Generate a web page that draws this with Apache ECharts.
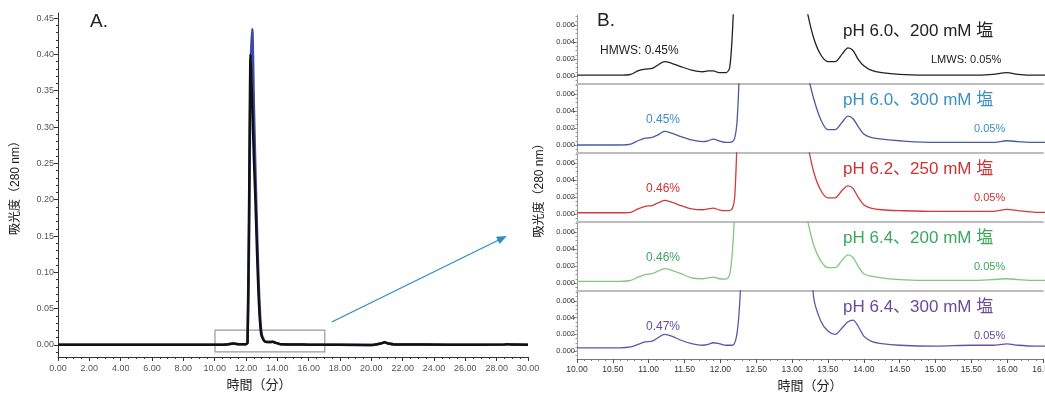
<!DOCTYPE html>
<html>
<head>
<meta charset="utf-8">
<script src="https://cdn.jsdelivr.net/npm/echarts@6/dist/echarts.min.js"></script>
<style>
  html, body { margin: 0; padding: 0; background: #fff; }
  #main { width: 1045px; height: 393px; }
</style>
</head>
<body>
<div id="main"></div>
<script>
// A. full chromatogram (time in min, absorbance at 280 nm)
var leftTime  = [0, 5, 10, 10.8, 11.2, 11.6, 12.0, 12.1, 12.2, 12.29, 12.4, 12.5, 12.6, 12.7, 12.8, 12.9, 13.0, 13.2, 13.5, 13.7, 13.9, 14.2, 16, 19.8, 20.2, 20.6, 20.85, 21.1, 21.5, 25, 28.5, 28.7, 28.9, 30];
var leftBlack = [0.0005, 0.0005, 0.0005, 0.0008, 0.002, 0.001, 0.0012, 0.003, 0.2, 0.40, 0.33, 0.26, 0.2, 0.13, 0.07, 0.03, 0.012, 0.005, 0.004, 0.0045, 0.003, 0.001, 0.0005, 0.0, 0.0003, 0.002, 0.0037, 0.002, 0.0008, 0.0005, 0.0006, 0.0012, 0.0006, 0.0005];
var leftBlue  = [0.0005, 0.0005, 0.0005, 0.0008, 0.002, 0.001, 0.0012, 0.003, 0.15, 0.38, 0.435, 0.33, 0.24, 0.16, 0.09, 0.04, 0.015, 0.005, 0.004, 0.0045, 0.003, 0.001, 0.0005, 0.0, 0.0003, 0.002, 0.0037, 0.002, 0.0008, 0.0005, 0.0006, 0.0012, 0.0006, 0.0005];
var leftTicks = [0, 0.05, 0.10, 0.15, 0.20, 0.25, 0.30, 0.35, 0.40, 0.45];

// B. zoomed traces, before and after the main peak
var zoomTimeA = [10.00, 10.30, 10.60, 10.75, 10.85, 10.95, 11.05, 11.13, 11.22, 11.32, 11.45, 11.60, 11.75, 11.83, 11.90, 11.98, 12.08, 12.13, 12.17, 12.20, 12.23, 12.26, 12.29];
var zoomTimeB = [13.20, 13.30, 13.40, 13.50, 13.60, 13.70, 13.78, 13.85, 13.92, 14.00, 14.10, 14.25, 14.50, 15.00, 15.50, 15.80, 16.00, 16.15, 16.40, 16.60];

var beforeA = [
  [0.0001, 0.0001, 0.0001, 0.0002, 0.0006, 0.0008, 0.0009, 0.0013, 0.0017, 0.0015, 0.0011, 0.0007, 0.0005, 0.0006, 0.0006, 0.0004, 0.0004, 0.0010, 0.0055, 0.012, 0.02, 0.03, 0.04],
  [0.0000, 0.0000, 0.0000, 0.0001, 0.0005, 0.0008, 0.0009, 0.0012, 0.0016, 0.0014, 0.0010, 0.0006, 0.0004, 0.0005, 0.0007, 0.0005, 0.0003, 0.0003, 0.0004, 0.0008, 0.0025, 0.0075, 0.015],
  [0.00015, 0.00015, 0.00015, 0.0002, 0.0006, 0.0009, 0.0010, 0.0013, 0.0016, 0.0014, 0.0010, 0.0006, 0.0005, 0.0006, 0.0007, 0.0005, 0.0004, 0.0004, 0.0007, 0.002, 0.008, 0.015, 0.03],
  [0.0002, 0.0002, 0.0002, 0.0003, 0.0007, 0.0010, 0.0011, 0.0014, 0.0017, 0.0015, 0.0011, 0.0006, 0.0005, 0.0006, 0.0007, 0.0005, 0.00045, 0.0010, 0.004, 0.009, 0.02, 0.03, 0.04],
  [0.0004, 0.0004, 0.0004, 0.0005, 0.0008, 0.0011, 0.0012, 0.0016, 0.0020, 0.0018, 0.0013, 0.0009, 0.0007, 0.0008, 0.0010, 0.0009, 0.0007, 0.0007, 0.0007, 0.0010, 0.002, 0.0045, 0.009]
];
var afterB = [
  [0.008, 0.0045, 0.0025, 0.0017, 0.0017, 0.0026, 0.0033, 0.0030, 0.0020, 0.0012, 0.0007, 0.0004, 0.0002, 0.0001, 0.0001, 0.0002, 0.0004, 0.0002, 0.0001, 0.0001],
  [0.009, 0.0055, 0.0030, 0.0018, 0.0018, 0.0027, 0.0034, 0.0031, 0.0022, 0.0013, 0.0009, 0.0007, 0.0005, 0.0003, 0.0003, 0.0003, 0.0005, 0.0004, 0.0003, 0.0003],
  [0.009, 0.0050, 0.0028, 0.0019, 0.0019, 0.0028, 0.0033, 0.0030, 0.0020, 0.0011, 0.0007, 0.0005, 0.0004, 0.0003, 0.0003, 0.0003, 0.00055, 0.0004, 0.0002, 0.0002],
  [0.008, 0.0045, 0.0026, 0.0018, 0.0018, 0.0027, 0.0033, 0.0030, 0.0020, 0.0011, 0.0008, 0.0006, 0.0004, 0.0003, 0.0003, 0.0004, 0.0005, 0.0004, 0.0003, 0.0003],
  [0.020, 0.0065, 0.0036, 0.0024, 0.0020, 0.0028, 0.0035, 0.0037, 0.0030, 0.0018, 0.0012, 0.0009, 0.0007, 0.0006, 0.0007, 0.0007, 0.00086, 0.0007, 0.0006, 0.0006]
];
var zoomTicks = [0, 0.002, 0.004, 0.006];
var conditions = ['pH 6.0、200 mM 塩', 'pH 6.0、300 mM 塩', 'pH 6.2、250 mM 塩', 'pH 6.4、200 mM 塩', 'pH 6.4、300 mM 塩'];
var hmwsLabels = ['HMWS: 0.45%', '0.45%', '0.46%', '0.46%', '0.47%'];
var lmwsLabels = ['LMWS: 0.05%', '0.05%', '0.05%', '0.05%', '0.05%'];

var lineColors = ['#222222', '#4b5a9e', '#d23b3b', '#82c77c', '#6552a6'];
var textColors = ['#222222', '#3a8fbf', '#cc3333', '#3aa85a', '#6a4a9a'];
var FONT = '"Liberation Sans", "Noto Sans CJK JP", sans-serif';
var NARROW = '"Liberation Sans Narrow", "Liberation Sans", sans-serif';

function pairs(t, v) {
  return t.map(function (x, i) { return [x, v[i]]; });
}
function steps(a, b, s) {
  var out = [];
  for (var v = a; v <= b + s / 2; v += s) out.push(Math.round(v * 10000) / 10000);
  return out;
}

var myChart = echarts.init(document.getElementById('main'));

var grids = [{ left: 58, right: 517, top: 13, bottom: 36, outerBoundsMode: 'none' }];
var xAxes = [{
  gridIndex: 0, type: 'value', min: 0, max: 30, interval: 2,
  name: '時間（分）', nameLocation: 'middle', nameGap: 22,
  nameTextStyle: { fontFamily: FONT, fontSize: 13, color: '#222', padding: [0, 68, 0, 0] },
  axisLine: { onZero: false, lineStyle: { color: '#333' } },
  axisTick: { length: 4, lineStyle: { color: '#333' } },
  minorTick: { show: true, splitNumber: 4, length: 2, lineStyle: { color: '#333' } },
  axisLabel: { fontFamily: FONT, fontSize: 9, color: '#555', margin: 7, formatter: function (v) { return v.toFixed(2); } },
  splitLine: { show: false }
}];
var yAxes = [{
  gridIndex: 0, type: 'value', position: 'left', min: -0.0165, max: 0.457,
  name: '吸光度（280 nm）', nameLocation: 'middle', nameGap: 36,
  nameTextStyle: { fontFamily: FONT, fontSize: 12, color: '#222' },
  axisLine: { show: true, lineStyle: { color: '#333' } },
  axisTick: { show: true, length: 4, customValues: leftTicks, lineStyle: { color: '#333' } },
  axisLabel: { customValues: leftTicks, fontFamily: FONT, fontSize: 9, color: '#555', margin: 4, formatter: function (v) { return v.toFixed(2); } },
  splitLine: { show: false }
}, {
  gridIndex: 0, type: 'value', position: 'left', min: -0.0165, max: 0.457,
  axisLine: { show: false },
  axisTick: { show: true, length: 2, customValues: steps(-0.01, 0.45, 0.01), lineStyle: { color: '#333' } },
  axisLabel: { show: false },
  splitLine: { show: false }
}];

var series = [{
  type: 'line', xAxisIndex: 0, yAxisIndex: 0, data: pairs(leftTime, leftBlue),
  showSymbol: false, smooth: 0.2, lineStyle: { color: '#3d4aa6', width: 2.5 }
}, {
  type: 'line', xAxisIndex: 0, yAxisIndex: 0, data: pairs(leftTime, leftBlack),
  showSymbol: false, smooth: 0.2, lineStyle: { color: '#111', width: 2.5 },
  markArea: {
    silent: true,
    itemStyle: { color: 'rgba(0,0,0,0)', borderColor: '#999', borderWidth: 1.2, borderRadius: 4 },
    data: [[{ coord: [10.02, 0.0205] }, { coord: [17.03, -0.0095] }]]
  },
  markLine: {
    silent: true, symbol: ['none', 'triangle'], symbolSize: [8, 10],
    label: { show: false },
    lineStyle: { color: '#2b8cc4', width: 1.2, type: 'solid' },
    data: [[{ coord: [17.47, 0.0316] }, { coord: [28.36, 0.147] }]]
  }
}];

var rightTop = [15, 84, 153, 222, 291];
var graphics = [
  { type: 'text', left: 90, top: 12, style: { text: 'A.', font: '19px ' + FONT, fill: '#222' } },
  { type: 'text', left: 597, top: 11, style: { text: 'B.', font: '19px ' + FONT, fill: '#222' } }
];

for (var k = 0; k < 5; k++) {
  var last = (k === 4);
  grids.push({ left: 577, right: 2, top: rightTop[k], height: last ? 68 : 69, outerBoundsMode: 'none' });
  xAxes.push({
    gridIndex: k + 1, type: 'value', min: 10, max: 16.5, interval: 0.5,
    name: last ? '時間（分）' : '', nameLocation: 'middle', nameGap: 21,
    nameTextStyle: { fontFamily: FONT, fontSize: 13, color: '#222' },
    axisLine: { onZero: false, lineStyle: last ? { color: '#777', width: 1 } : { color: '#bdbdbd', width: 2 } },
    axisTick: { show: last, length: 4, lineStyle: { color: '#555' } },
    minorTick: { show: last, splitNumber: 5, length: 2, lineStyle: { color: '#777' } },
    axisLabel: { show: last, showMaxLabel: true, fontFamily: NARROW, fontSize: 8.5, color: '#333', margin: 6, formatter: function (v) { return v.toFixed(2); } },
    splitLine: { show: false }
  });
  yAxes.push({
    gridIndex: k + 1, type: 'value', position: 'left', min: -0.00094, max: 0.00718,
    name: k === 2 ? '吸光度（280 nm）' : '', nameLocation: 'middle', nameGap: 31,
    nameTextStyle: { fontFamily: FONT, fontSize: 12, color: '#222' },
    axisLine: { show: true, lineStyle: { color: '#999' } },
    axisTick: { show: true, length: 3, customValues: zoomTicks, lineStyle: { color: '#666' } },
    axisLabel: { customValues: zoomTicks, fontFamily: NARROW, fontSize: 7.5, color: '#333', margin: 2, formatter: function (v) { return v.toFixed(3); } },
    splitLine: { show: false }
  });
  yAxes.push({
    gridIndex: k + 1, type: 'value', position: 'left', min: -0.00094, max: 0.00718,
    axisLine: { show: false },
    axisTick: { show: true, length: 1.5, customValues: steps(-0.0005, 0.007, 0.0005), lineStyle: { color: '#999' } },
    axisLabel: { show: false },
    splitLine: { show: false }
  });
  series.push({
    type: 'line', xAxisIndex: k + 1, yAxisIndex: 2 + 2 * k, data: pairs(zoomTimeA, beforeA[k]),
    showSymbol: false, smooth: 0.3, clip: true, lineStyle: { color: lineColors[k], width: 1.3 }
  });
  series.push({
    type: 'line', xAxisIndex: k + 1, yAxisIndex: 2 + 2 * k, data: pairs(zoomTimeB, afterB[k]),
    showSymbol: false, smooth: 0.3, clip: true, lineStyle: { color: lineColors[k], width: 1.3 }
  });

  var base = rightTop[k];
  graphics.push({ type: 'text', left: 843, top: base + 8, style: { text: conditions[k], font: '17px ' + FONT, fill: textColors[k] } });
  graphics.push({ type: 'text', left: k === 0 ? 600 : 646, top: base + 30, style: { text: hmwsLabels[k], font: '12px ' + FONT, fill: textColors[k] } });
  graphics.push({ type: 'text', left: k === 0 ? 931 : 974, top: base + 39, style: { text: lmwsLabels[k], font: '11px ' + FONT, fill: textColors[k] } });
}

var option = {
  animation: false,
  backgroundColor: '#fff',
  grid: grids,
  xAxis: xAxes,
  yAxis: yAxes,
  series: series,
  graphic: graphics
};

myChart.setOption(option);
</script>
</body>
</html>
